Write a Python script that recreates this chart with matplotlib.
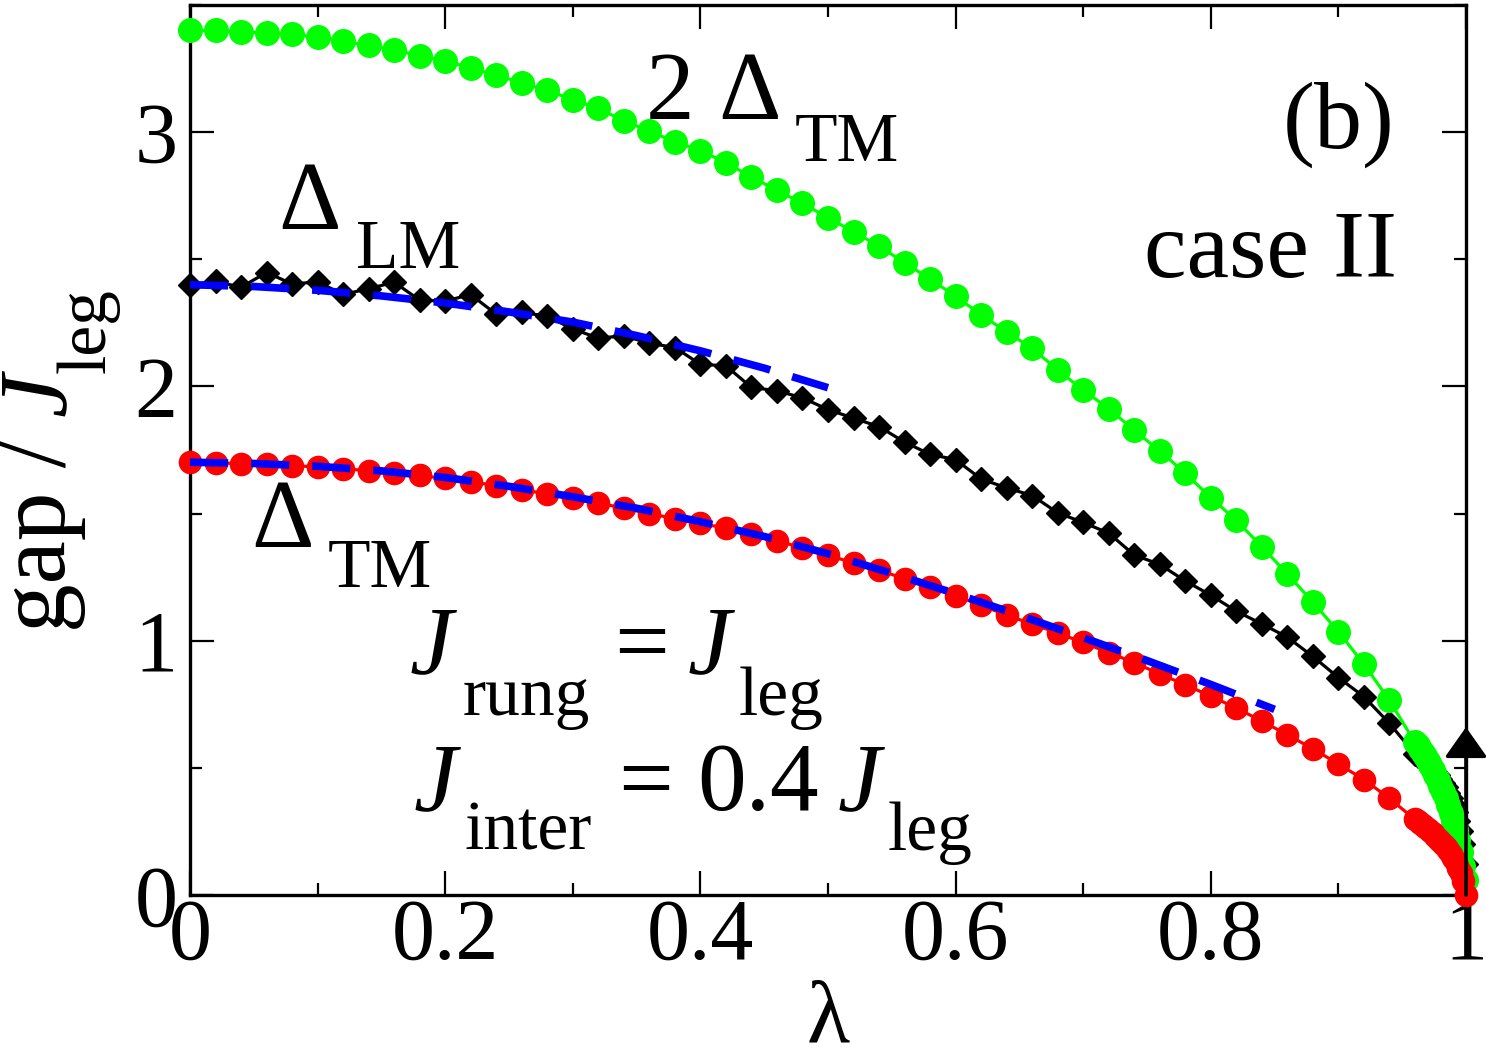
import glob
import os
import numpy as np
import matplotlib
matplotlib.use('Agg')
import matplotlib.pyplot as plt
from matplotlib import font_manager as fm
from matplotlib.ticker import MultipleLocator, FixedLocator, FixedFormatter

# lambda grid of the data points (step 0.02, then a dense tail close to 1)
lam = np.round(np.arange(0.0, 0.961, 0.02), 3)
lam_tail = np.round(np.arange(0.962, 1.0001, 0.002), 3)

# Delta_TM (red circles)
gap_tm = [1.702, 1.700, 1.696, 1.693, 1.689, 1.683, 1.676, 1.669, 1.661, 1.650,
          1.638, 1.625, 1.610, 1.594, 1.577, 1.560, 1.542, 1.521, 1.500, 1.480,
          1.461, 1.443, 1.421, 1.392, 1.366, 1.336, 1.306, 1.277, 1.244, 1.211,
          1.177, 1.140, 1.100, 1.066, 1.030, 0.993, 0.953, 0.914, 0.869, 0.827,
          0.782, 0.735, 0.684, 0.630, 0.575, 0.515, 0.454, 0.380, 0.297]
gap_tm_tail = [0.290, 0.282, 0.274, 0.266, 0.258, 0.250, 0.242, 0.232, 0.222, 0.212,
               0.201, 0.189, 0.176, 0.162, 0.146, 0.128, 0.108, 0.085, 0.056, 0.0]

# 2 Delta_TM (green circles)
gap_2tm = [3.400, 3.400, 3.394, 3.390, 3.384, 3.374, 3.357, 3.342, 3.322, 3.301,
           3.279, 3.253, 3.224, 3.194, 3.164, 3.128, 3.093, 3.045, 3.004, 2.962,
           2.927, 2.880, 2.824, 2.771, 2.720, 2.664, 2.608, 2.552, 2.486, 2.423,
           2.354, 2.282, 2.214, 2.150, 2.065, 1.985, 1.913, 1.827, 1.747, 1.658,
           1.563, 1.473, 1.370, 1.262, 1.152, 1.035, 0.908, 0.765, 0.600]
gap_2tm_tail = [0.590, 0.575, 0.560, 0.545, 0.528, 0.510, 0.492, 0.472, 0.452, 0.430,
                0.405, 0.380, 0.352, 0.322, 0.290, 0.255, 0.215, 0.170, 0.115, 0.060]

# Delta_LM (black diamonds)
gap_lm = [2.400, 2.413, 2.390, 2.448, 2.403, 2.411, 2.362, 2.384, 2.410, 2.339,
          2.336, 2.361, 2.284, 2.291, 2.276, 2.226, 2.190, 2.199, 2.170, 2.153,
          2.087, 2.081, 1.996, 1.983, 1.955, 1.909, 1.875, 1.842, 1.781, 1.733,
          1.712, 1.636, 1.601, 1.571, 1.503, 1.465, 1.423, 1.337, 1.300, 1.235,
          1.179, 1.116, 1.066, 1.014, 0.938, 0.855, 0.780, 0.675, 0.554]
gap_lm_tail = [0.548, 0.541, 0.533, 0.525, 0.516, 0.506, 0.495, 0.483, 0.470, 0.456,
               0.440, 0.423, 0.403, 0.381, 0.356, 0.327, 0.292, 0.250, 0.200, 0.120]

# blue dashed approximations
fit_lm_x = [0.0, 0.05, 0.10, 0.15, 0.20, 0.25, 0.30, 0.35, 0.40, 0.45, 0.50]
fit_lm_y = [2.400, 2.393, 2.378, 2.356, 2.328, 2.293, 2.253, 2.200, 2.140, 2.072, 1.995]
fit_tm_x = [0.0, 0.05, 0.10, 0.15, 0.20, 0.25, 0.30, 0.35, 0.40, 0.45, 0.50, 0.55,
            0.60, 0.65, 0.70, 0.75, 0.80, 0.85]
fit_tm_y = [1.702, 1.697, 1.686, 1.668, 1.642, 1.607, 1.566, 1.521, 1.468, 1.410,
            1.342, 1.265, 1.185, 1.100, 1.012, 0.922, 0.828, 0.730]

# arrow at the critical point
arrow_x = 1.0
arrow_top = 0.66

# make sure a Times-like serif font is registered
for pat in ['/usr/share/fonts/**/Liberation*.ttf', '/usr/local/share/fonts/**/Liberation*.ttf',
            os.path.expanduser('~/.fonts/**/Liberation*.ttf'),
            os.path.expanduser('~/.local/share/fonts/**/Liberation*.ttf')]:
    for f in glob.glob(pat, recursive=True):
        try:
            fm.fontManager.addfont(f)
        except Exception:
            pass
names = {f.name for f in fm.fontManager.ttflist}
SERIF = next((n for n in ['Liberation Serif', 'Times New Roman', 'Tinos', 'Nimbus Roman',
                          'FreeSerif', 'DejaVu Serif'] if n in names), 'serif')

W, H = 1486, 1059
plt.rcParams['font.family'] = [SERIF, 'DejaVu Serif']

fig = plt.figure(figsize=(W / 100, H / 100), dpi=100)
ax = fig.add_axes([190 / W, 1 - 895 / H, 1276 / W, 890 / H])

x_all = np.concatenate([lam, lam_tail])
lw = 2.3
ax.plot(x_all, gap_lm + gap_lm_tail, color='black', lw=lw, marker='D', ms=12.5,
        clip_on=False, zorder=3)
ax.plot(x_all, gap_2tm + gap_2tm_tail, color='#00ff00', lw=lw, marker='o', ms=17,
        clip_on=False, zorder=4)
ax.plot(x_all, gap_tm + gap_tm_tail, color='#ff0000', lw=lw, marker='o', ms=16,
        clip_on=False, zorder=5)
ax.plot(fit_lm_x, fit_lm_y, color='#0000ff', lw=5.5, dashes=(5.0, 3.0),
        dash_capstyle='butt', clip_on=False, zorder=6)
ax.plot(fit_tm_x, fit_tm_y, color='#0000ff', lw=5.5, dashes=(5.0, 3.0),
        dash_capstyle='butt', clip_on=False, zorder=6)

ax.annotate('', xy=(arrow_x, arrow_top), xytext=(arrow_x, 0.0),
            arrowprops=dict(arrowstyle='-|>,head_length=0.85,head_width=0.6',
                            color='black', lw=2.6, shrinkA=0, shrinkB=0,
                            mutation_scale=22),
            annotation_clip=False, zorder=7)

ax.set_xlim(0, 1)
ax.set_ylim(0, 3.5)
ax.xaxis.set_major_locator(FixedLocator([0, 0.2, 0.4, 0.6, 0.8, 1.0]))
ax.xaxis.set_major_formatter(FixedFormatter(['0', '0.2', '0.4', '0.6', '0.8', '1']))
ax.xaxis.set_minor_locator(MultipleLocator(0.1))
ax.yaxis.set_major_locator(FixedLocator([0, 1, 2, 3]))
ax.yaxis.set_major_formatter(FixedFormatter(['0', '1', '2', '3']))
ax.yaxis.set_minor_locator(MultipleLocator(0.5))
ax.tick_params(which='both', direction='in', top=True, right=True, width=1.6)
ax.tick_params(which='major', length=17, labelsize=62)
ax.tick_params(which='minor', length=8.5)
ax.tick_params(axis='x', which='major', pad=2)
ax.tick_params(axis='y', which='major', pad=9)
for s in ax.spines.values():
    s.set_linewidth(2.4)


def put(px, py, s, size=70, style='normal', ha='left', rot=0):
    fig.text(px / W, 1 - py / H, s, fontsize=size, style=style, ha=ha,
             va='baseline', rotation=rot, rotation_mode='anchor')


# curve labels
put(646, 119, '2')
put(718, 119, '\u0394')
put(795, 161, 'TM', 50)
put(278, 229, '\u0394')
put(356, 268, 'LM', 50)
put(251, 547, '\u0394')
put(328, 587, 'TM', 50)
put(1395, 148, '(b)', 69, ha='right')
put(1397, 277, 'case II', 69, ha='right')

# couplings
put(410, 673, 'J', style='italic')
put(463, 715, 'rung', 50)
put(614, 673, '=')
put(688, 673, 'J', style='italic')
put(739, 715, 'leg', 50)
put(414, 810, 'J', style='italic')
put(465, 850, 'inter', 50)
put(618, 810, '=')
put(697, 810, '0.4')
put(838, 810, 'J', style='italic')
put(888, 850, 'leg', 50)

# axis labels
fig.text(828 / W, 1 - 1042 / H, '\u03bb', fontsize=64, ha='center', va='baseline')
put(65, 632, 'gap / ', 70, rot=90)
put(65, 416, 'J', 70, style='italic', rot=90)
put(105, 373, 'leg', 50, rot=90)

fig.savefig('out.png', dpi=100)
